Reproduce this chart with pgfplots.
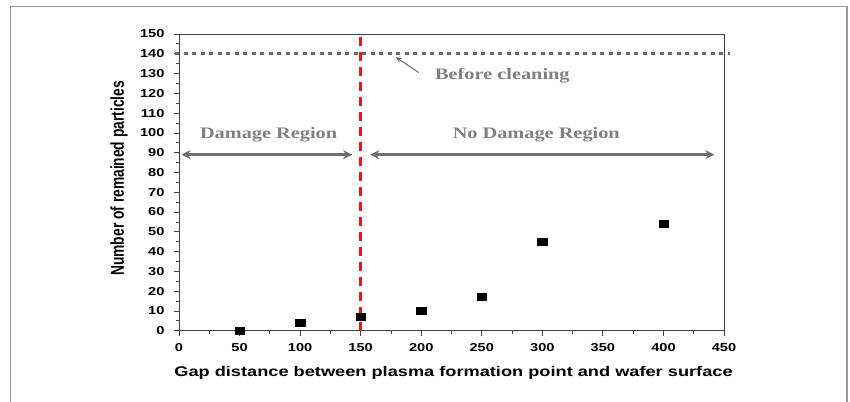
\documentclass[border=0pt]{standalone}
\usepackage{fontspec}
\setmainfont{Liberation Sans}
\newfontfamily\serifb{Liberation Serif}
\usepackage{pgfplots}
\pgfplotsset{compat=1.18}
\usetikzlibrary{arrows.meta}
\definecolor{annogray}{RGB}{128,128,128}
\definecolor{arrowgray}{RGB}{110,110,110}
\definecolor{dotgray}{RGB}{105,105,105}
\definecolor{redline}{RGB}{222,30,30}
\newcommand{\hs}[1]{\scalebox{1.27}[1]{#1}}
\begin{document}
\begin{tikzpicture}[x=1pt,y=1pt]
\useasboundingbox (0,0) rectangle (850,-401);
\begin{scope}
\clip (0,0) rectangle (850,-401);
\draw[color=gray!80, line width=1.5pt] (10.5,-6.5) rectangle (847,-410);
\end{scope}
\begin{axis}[
  at={(179pt,-330.7pt)}, anchor=south west,
  scale only axis, width=545pt, height=296.7pt,
  xmin=0, xmax=450, ymin=0, ymax=150,
  xtick={0,50,...,450}, ytick={0,10,...,150},
  minor x tick num=1, minor y tick num=1,
  tick align=outside,
  major tick length=5pt, minor tick length=3pt,
  axis line style={color=black!75, line width=0.8pt},
  every tick/.style={color=black!75, line width=0.8pt},
  xtick pos=bottom, ytick pos=left,
  /pgf/number format/assume math mode=true,
  ticklabel style={font=\bfseries\fontsize{11.5}{13}\selectfont},
  xticklabel={\hs{\pgfmathprintnumber{\tick}}},
  yticklabel={\hs{\pgfmathprintnumber{\tick}}},
  xticklabel style={yshift=-4pt},
  yticklabel style={xshift=-6pt},
  xlabel={\scalebox{1.3}[1]{\bfseries Gap distance between plasma formation point and wafer surface}},
  xlabel style={font=\fontsize{14}{16}\selectfont, at={(0.5,0)}, anchor=center, yshift=-42pt, xshift=2pt},
  ylabel={\scalebox{1}[1.35]{\bfseries Number of remained particles}},
  ylabel style={font=\fontsize{13.8}{16}\selectfont, at={(0,0.5)}, anchor=center, yshift=60pt, xshift=4pt},
  clip=false,
]
% Before-cleaning reference line
\addplot[dotgray, line width=3pt, dash pattern=on 4pt off 4.5pt] coordinates {(-3,140) (455,140)};
% boundary line
\addplot[redline, line width=3pt, dash pattern=on 9pt off 6pt] coordinates {(150,0) (150,151)};
% data
\addplot[only marks, mark=square*, mark size=3.8pt, black,
  every mark/.append style={xscale=1.25, yscale=0.95}] coordinates {
  (50,0) (100,4) (150,7) (200,10) (250,17) (300,45) (400,54)};
% annotations
\draw[arrowgray, line width=2.5pt, {Stealth[length=9pt,width=9pt]}-{Stealth[length=9pt,width=9pt]}]
  (axis cs:2,89) -- (axis cs:143,89);
\draw[arrowgray, line width=2.5pt, {Stealth[length=9pt,width=9pt]}-{Stealth[length=9pt,width=9pt]}]
  (axis cs:158,89) -- (axis cs:442,89);
\node[annogray, font=\serifb\bfseries\fontsize{16}{18}\selectfont] at (axis cs:74,99) {\hs{Damage Region}};
\node[annogray, font=\serifb\bfseries\fontsize{16}{18}\selectfont] at (axis cs:295,99) {\hs{No Damage Region}};
\node[annogray, font=\serifb\bfseries\fontsize{16}{18}\selectfont] at (axis cs:267,129) {\hs{Before cleaning}};
\draw[arrowgray, line width=1pt, -{Stealth[length=6pt,width=5pt]}] (axis cs:198,130.5) -- (axis cs:179,138.3);
\end{axis}
\end{tikzpicture}
\end{document}
